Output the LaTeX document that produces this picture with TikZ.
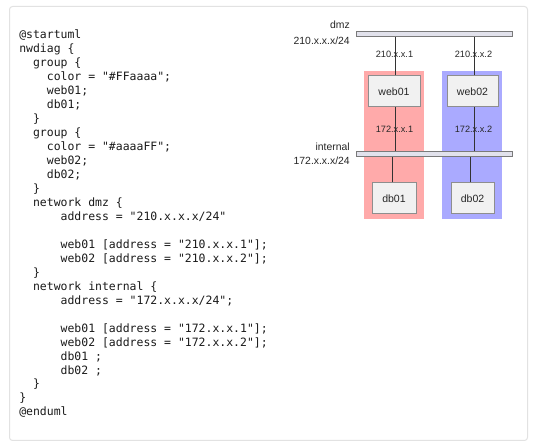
\documentclass[tikz,border=0pt]{standalone}
\usepackage{fontspec}
\setmainfont{Liberation Sans}
\setmonofont{DejaVu Sans Mono}
\newlength\pxl \setlength\pxl{0.75pt}
\definecolor{framec}{HTML}{E2E2E2}
\definecolor{pinkc}{HTML}{FFAAAA}
\definecolor{bluec}{HTML}{AAAAFF}
\definecolor{boxfill}{HTML}{F1F1F1}
\definecolor{boxline}{HTML}{8E8E8E}
\definecolor{barfill}{HTML}{E2E2EC}
\definecolor{barline}{HTML}{7A7A7A}
\definecolor{linkc}{HTML}{333333}
\definecolor{codec}{HTML}{1A1A1A}
\begin{document}
\begin{tikzpicture}[x=0.75pt,y=-0.75pt,
  frame/.style={draw=framec,line width=1\pxl,fill=white,rounded corners=3\pxl},
  grp/.style={draw=none,inner sep=0,minimum width=60\pxl,minimum height=148\pxl},
  bar/.style={draw=barline,fill=barfill,line width=1\pxl,inner sep=0,minimum width=156\pxl,minimum height=5\pxl},
  host/.style={draw=boxline,fill=boxfill,line width=1\pxl,inner sep=0,minimum height=31\pxl,font=\fontsize{7.9}{9}\selectfont,text=black!85},
  link/.style={draw=linkc,line width=1\pxl},
  addr/.style={anchor=base,inner sep=0,font=\fontsize{6.9}{8}\selectfont,text=black!85},
  netlbl/.style={anchor=base east,inner sep=0,font=\fontsize{7.8}{9}\selectfont,text=black!85},
  codeline/.style={anchor=base west,inner sep=0,font=\fontsize{8.6}{10}\ttfamily,text=codec}]
\useasboundingbox (0,0) rectangle (543,448);
\draw[frame] (9.5,6.5) rectangle (527.5,440.5);

% code listing
\foreach \n/\ind/\t in {
 0/0/{@startuml},
 1/0/{nwdiag \{},
 2/2/{group \{},
 3/4/{color = "\#FFaaaa";},
 4/4/{web01;},
 5/4/{db01;},
 6/2/{\}},
 7/2/{group \{},
 8/4/{color = "\#aaaaFF";},
 9/4/{web02;},
 10/4/{db02;},
 11/2/{\}},
 12/2/{network dmz \{},
 13/6/{address = "210.x.x.x/24"},
 15/6/{web01 [address = "210.x.x.1"];},
 16/6/{web02 [address = "210.x.x.2"];},
 17/2/{\}},
 18/2/{network internal \{},
 19/6/{address = "172.x.x.x/24";},
 21/6/{web01 [address = "172.x.x.1"];},
 22/6/{web02 [address = "172.x.x.2"];},
 23/6/{db01 ;},
 24/6/{db02 ;},
 25/2/{\}},
 26/0/{\}},
 27/0/{@enduml}}
 \node[codeline] (code\n) at ({19+6.9*\ind},{38.5+13.98*\n}) {\t};

% groups
\node[grp,fill=pinkc] (g1) at (394,145) {};
\node[grp,fill=bluec] (g2) at (472,145) {};

% networks
\node[bar] (dmz) at (434,33.8) {};
\node[bar] (internal) at (434,153.8) {};
\node[netlbl] (dmzname) at (350,29) {dmz};
\node[netlbl] (dmzaddr) at (350,45) {210.x.x.x/24};
\node[netlbl] (intname) at (350,151) {internal};
\node[netlbl] (intaddr) at (350,165) {172.x.x.x/24};

% hosts
\node[host,minimum width=52\pxl] (web01) at (394,91.5) {web01};
\node[host,minimum width=51\pxl] (web02) at (472.5,91.5) {web02};
\node[host,minimum width=44\pxl] (db01) at (394,198.5) {db01};
\node[host,minimum width=43\pxl] (db02) at (472.5,198.5) {db02};

% links
\draw[link] ([xshift=1.5\pxl]web01.north) -- ([xshift=1.5\pxl]web01.north |- dmz.south);
\draw[link] ([xshift=1.5\pxl]web01.south) -- ([xshift=1.5\pxl]web01.south |- internal.north);
\draw[link] ([xshift=1.5\pxl]web02.north) -- ([xshift=1.5\pxl]web02.north |- dmz.south);
\draw[link] ([xshift=1.5\pxl]web02.south) -- ([xshift=1.5\pxl]web02.south |- internal.north);
\draw[link] ([xshift=-1.5\pxl]db01.north) -- ([xshift=-1.5\pxl]db01.north |- internal.south);
\draw[link] ([xshift=-2\pxl]db02.north) -- ([xshift=-2\pxl]db02.north |- internal.south);

% addresses
\node[addr] (a1) at (394.5,58) {210.x.x.1};
\node[addr] (a2) at (473.5,58) {210.x.x.2};
\node[addr] (a3) at (394.5,133) {172.x.x.1};
\node[addr] (a4) at (473.5,133) {172.x.x.2};
\end{tikzpicture}
\end{document}
